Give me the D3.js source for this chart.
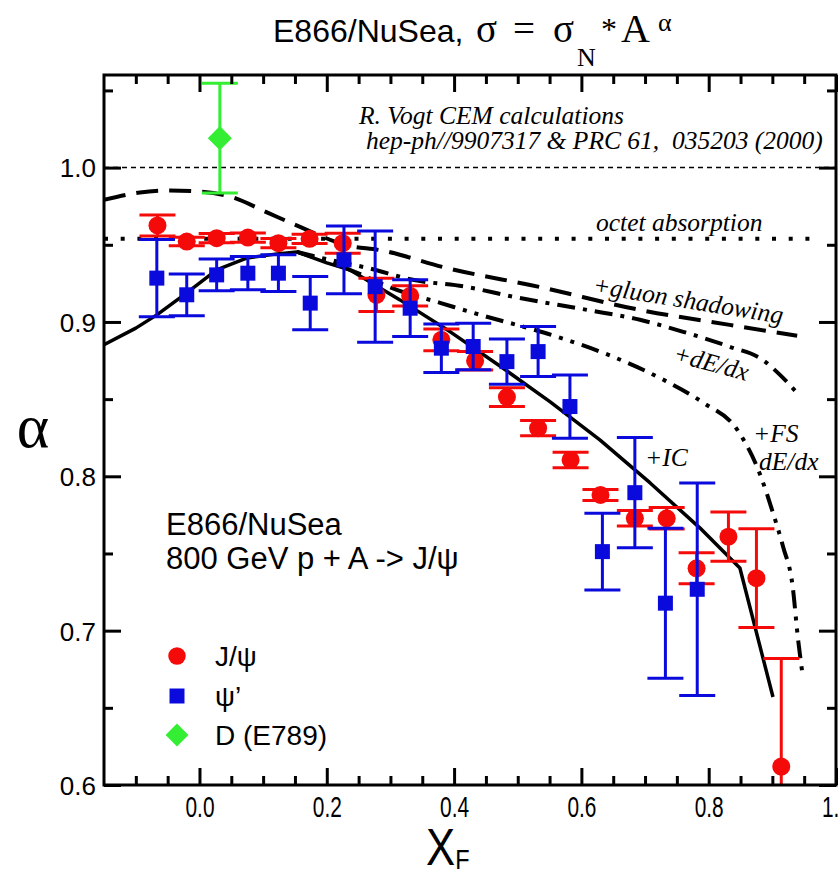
<!DOCTYPE html>
<html lang="en">
<head>
<meta charset="UTF-8">
<title>E866/NuSea alpha vs xF</title>
<style>
  body { margin: 0; background: #fff; }
  svg { display: block; }
</style>
</head>
<body>
<script src="https://cdn.jsdelivr.net/npm/d3@7"></script>
<script>
// J/psi points
const xfJ    = [-0.066, -0.020, 0.027, 0.076, 0.124, 0.173, 0.225, 0.278, 0.331, 0.380, 0.433, 0.483, 0.532, 0.583, 0.630, 0.684, 0.734, 0.781, 0.831, 0.875, 0.914];
const alphaJ = [0.9625, 0.9521, 0.9543, 0.9547, 0.9510, 0.9539, 0.9510, 0.9175, 0.9169, 0.8884, 0.8748, 0.8513, 0.8312, 0.8106, 0.7879, 0.7728, 0.7728, 0.7404, 0.7609, 0.7340, 0.6119];
const errJ   = [0.0068, 0.0027, 0.003, 0.003, 0.003, 0.003, 0.0065, 0.0108, 0.0065, 0.007, 0.006, 0.006, 0.005, 0.005, 0.0035, 0.005, 0.007, 0.010, 0.016, 0.032, 0.070];

// psi' points
const xfP    = [-0.067, -0.020, 0.027, 0.076, 0.124, 0.174, 0.227, 0.276, 0.331, 0.380, 0.430, 0.483, 0.532, 0.582, 0.633, 0.684, 0.732, 0.782];
const alphaP = [0.9284, 0.9176, 0.9305, 0.9316, 0.9316, 0.9122, 0.9402, 0.9229, 0.9089, 0.8830, 0.8841, 0.8743, 0.8808, 0.8452, 0.7512, 0.7894, 0.7178, 0.7268];
const errP   = [0.025, 0.0135, 0.0103, 0.0108, 0.0119, 0.0173, 0.022, 0.036, 0.0184, 0.0157, 0.015, 0.0146, 0.0162, 0.0205, 0.0248, 0.0357, 0.0486, 0.0688];

// D (E789)
const xfD = [0.032], alphaD = [1.0191], errD = [0.0356];

// CEM curves (R. Vogt)
const shadowX = [-0.15, -0.0935, -0.0463, -0.0024, 0.0526, 0.106, 0.158, 0.232, 0.284, 0.389, 0.535, 0.692, 0.833, 0.939];
const shadowY = [0.9791, 0.9839, 0.9852, 0.9846, 0.9807, 0.9710, 0.9616, 0.9496, 0.9465, 0.9349, 0.9226, 0.9078, 0.8981, 0.8910];
const dedxX = [0.153, 0.205, 0.263, 0.335, 0.420, 0.493, 0.609, 0.692, 0.760, 0.833, 0.885, 0.912, 0.939];
const dedxY = [0.9454, 0.9402, 0.9351, 0.9273, 0.9227, 0.9163, 0.9078, 0.9014, 0.8936, 0.8839, 0.8754, 0.8657, 0.8540];
const fsX = [0.153, 0.236, 0.310, 0.378, 0.441, 0.515, 0.562, 0.650, 0.729, 0.792, 0.845, 0.881, 0.901, 0.917, 0.932, 0.940, 0.948];
const fsY = [0.9454, 0.9338, 0.9208, 0.9124, 0.9046, 0.8962, 0.8904, 0.8774, 0.8625, 0.8475, 0.8301, 0.8009, 0.7763, 0.7542, 0.7283, 0.6959, 0.6700];
const icX = [-0.15, -0.100, -0.067, -0.020, 0.027, 0.075, 0.122, 0.153, 0.200, 0.236, 0.315, 0.394, 0.472, 0.551, 0.629, 0.708, 0.786, 0.849, 0.901];
const icY = [0.8852, 0.8960, 0.9046, 0.9189, 0.9338, 0.9415, 0.9441, 0.9454, 0.9383, 0.9338, 0.9143, 0.8936, 0.8715, 0.8482, 0.8236, 0.7957, 0.7666, 0.7406, 0.6570];

const octetAlpha = 0.9539;
const xTicks = [0, 0.2, 0.4, 0.6, 0.8, 1.0];
const yTicks = [0.6, 0.7, 0.8, 0.9, 1.0];

const width = 839, height = 875;
const margin = {top: 75, right: 3, bottom: 90, left: 104};
const sans = "'Liberation Sans', Arial, sans-serif";
const serif = "'Liberation Serif', 'Times New Roman', serif";

const x = d3.scaleLinear().domain([-0.15, 1.0]).range([margin.left, width - margin.right]);
const y = d3.scaleLinear().domain([0.6, 1.06]).range([height - margin.bottom, margin.top]);

const svg = d3.select("body").append("svg")
    .attr("width", width).attr("height", height)
    .attr("viewBox", [0, 0, width, height]);

svg.append("clipPath").attr("id", "plot")
  .append("rect")
    .attr("x", margin.left).attr("y", margin.top)
    .attr("width", width - margin.left - margin.right)
    .attr("height", height - margin.top - margin.bottom);

const plot = svg.append("g").attr("clip-path", "url(#plot)");

// reference lines
plot.append("line")
    .attr("x1", x(-0.15)).attr("x2", x(1.0)).attr("y1", y(1)).attr("y2", y(1))
    .attr("stroke", "#000").attr("stroke-width", 1.5).attr("stroke-dasharray", "5,4");
plot.append("line")
    .attr("x1", x(-0.15)).attr("x2", x(0.97)).attr("y1", y(octetAlpha)).attr("y2", y(octetAlpha))
    .attr("stroke", "#000").attr("stroke-width", 4).attr("stroke-dasharray", "4,12.7");

const curves = [
  {xs: shadowX, ys: shadowY, dash: "22,11", curve: d3.curveMonotoneX},
  {xs: dedxX, ys: dedxY, dash: "18,8,4,8", curve: d3.curveMonotoneX},
  {xs: fsX, ys: fsY, dash: "18,8,4,8,4,8", curve: d3.curveMonotoneX},
  {xs: icX, ys: icY, dash: null, curve: d3.curveLinear}
];
curves.forEach(c => {
  const line = d3.line().x(d => x(d[0])).y(d => y(d[1])).curve(c.curve);
  plot.append("path")
      .datum(d3.zip(c.xs, c.ys))
      .attr("d", line)
      .attr("fill", "none")
      .attr("stroke", "#000")
      .attr("stroke-width", c.dash ? 4 : 3.5)
      .attr("stroke-linejoin", "round")
      .attr("stroke-dasharray", c.dash);
});

// data with error bars
function series(xs, as, es, color, symbol, size, rotate) {
  const data = d3.zip(xs, as, es);
  const g = plot.append("g").attr("stroke", color).attr("stroke-width", 3);
  g.selectAll(".bar").data(data).join("path")
      .attr("d", d => {
        const cx = x(d[0]), y1 = y(d[1] + d[2]), y0 = y(d[1] - d[2]);
        return `M${cx},${y0}V${y1}M${cx - 18},${y1}H${cx + 18}M${cx - 18},${y0}H${cx + 18}`;
      });
  plot.append("g").attr("fill", color).selectAll("path").data(data).join("path")
      .attr("transform", d => `translate(${x(d[0])},${y(d[1])}) rotate(${rotate})`)
      .attr("d", d3.symbol(symbol, size));
}
const red = "#f50a0a", blue = "#0a0adc", green = "#33ee33";
series(xfJ, alphaJ, errJ, red, d3.symbolCircle, 255, 0);
series(xfP, alphaP, errP, blue, d3.symbolSquare, 225, 0);
series(xfD, alphaD, errD, green, d3.symbolSquare, 290, 45);

// axes with inward ticks on all four sides
const minorX = d3.range(-0.1, 1.0001, 0.05).map(v => +v.toFixed(2)).filter(v => !xTicks.includes(v));
const minorY = d3.range(0.65, 1.06, 0.1).map(v => +v.toFixed(2));
function frameAxis(axisFn, scale, tr, major, minor, labels) {
  const gMinor = svg.append("g").attr("transform", tr)
      .call(axisFn(scale).tickValues(minor).tickSize(-9).tickFormat(""));
  const gMajor = svg.append("g").attr("transform", tr)
      .call(axisFn(scale).tickValues(major).tickSize(-17).tickFormat(labels ? d3.format(".1f") : ""));
  [gMinor, gMajor].forEach(g => {
    g.select(".domain").remove();
    g.selectAll("line").attr("stroke", "#000").attr("stroke-width", 3);
  });
  return gMajor;
}
const bottomY = height - margin.bottom, rightX = width - margin.right;
const gx = frameAxis(d3.axisBottom, x, `translate(0,${bottomY})`, xTicks, minorX, true);
frameAxis(d3.axisTop, x, `translate(0,${margin.top})`, xTicks, minorX, false);
const gy = frameAxis(d3.axisLeft, y, `translate(${margin.left},0)`, yTicks, minorY, true);
frameAxis(d3.axisRight, y, `translate(${rightX},0)`, yTicks, minorY, false);

gx.selectAll("text")
    .attr("font-family", sans).attr("font-size", 29).attr("fill", "#000")
    .attr("y", 11).attr("transform", "scale(0.72,1)");
gy.selectAll("text")
    .attr("font-family", sans).attr("font-size", 26).attr("fill", "#000")
    .attr("x", -8).attr("dy", "0.36em");

svg.append("rect")
    .attr("x", margin.left).attr("y", margin.top)
    .attr("width", rightX - margin.left).attr("height", bottomY - margin.top)
    .attr("fill", "none").attr("stroke", "#000").attr("stroke-width", 3);

// axis titles
svg.append("text").attr("x", 33).attr("y", 447).attr("text-anchor", "middle")
    .attr("font-family", serif).attr("font-size", 62).text("α");
const xl = svg.append("text").attr("x", 426).attr("y", 865)
    .attr("font-family", sans).attr("font-size", 52)
    .attr("transform", "translate(426,0) scale(0.84,1) translate(-426,0)");
xl.append("tspan").text("X");
xl.append("tspan").attr("font-size", 28).attr("dy", 4).text("F");

// title
const title = [
  {text: "E866/NuSea,", x: 273, y: 42, size: 32, font: sans},
  {text: "σ", x: 476, y: 42, size: 39, font: serif},
  {text: "=", x: 513, y: 42, size: 39, font: serif},
  {text: "σ", x: 553, y: 42, size: 39, font: serif},
  {text: "N", x: 577, y: 66, size: 26, font: serif},
  {text: "*", x: 601, y: 40, size: 32, font: serif},
  {text: "A", x: 621, y: 42, size: 40, font: serif},
  {text: "α", x: 658, y: 31, size: 26, font: serif}
];
svg.append("g").selectAll("text").data(title).join("text")
    .attr("x", d => d.x).attr("y", d => d.y)
    .attr("font-family", d => d.font).attr("font-size", d => d.size)
    .text(d => d.text);

// annotations
const ann = [
  {text: "R. Vogt CEM calculations", x: 359, y: 124, rot: 0},
  {text: "hep-ph//9907317 & PRC 61,  035203 (2000)", x: 366, y: 149, rot: 0},
  {text: "octet absorption", x: 596, y: 231, rot: 0},
  {text: "+gluon shadowing", x: 592, y: 293, rot: 9.2},
  {text: "+dE/dx", x: 672, y: 361, rot: 15},
  {text: "+FS", x: 753, y: 442, rot: 0},
  {text: "dE/dx", x: 759, y: 470, rot: 0},
  {text: "+IC", x: 645, y: 466, rot: 0}
];
svg.append("g").selectAll("text").data(ann).join("text")
    .attr("transform", d => `translate(${d.x},${d.y}) rotate(${d.rot})`)
    .attr("font-family", serif).attr("font-style", "italic").attr("font-size", 25.5)
    .attr("xml:space", "preserve")
    .text(d => d.text);

const info = svg.append("text").attr("font-family", sans).attr("font-size", 31);
info.append("tspan").attr("x", 166).attr("y", 535).text("E866/NuSea");
info.append("tspan").attr("x", 166).attr("y", 569).text("800 GeV p + A -> J/ψ");

// legend
const legend = [
  {label: "J/ψ", color: red, symbol: d3.symbolCircle, size: 240, rot: 0, y: 656},
  {label: "ψ’", color: blue, symbol: d3.symbolSquare, size: 225, rot: 0, y: 696},
  {label: "D (E789)", color: green, symbol: d3.symbolSquare, size: 260, rot: 45, y: 735}
];
const lg = svg.append("g").selectAll("g").data(legend).join("g");
lg.append("path")
    .attr("transform", d => `translate(177,${d.y}) rotate(${d.rot})`)
    .attr("d", d => d3.symbol(d.symbol, d.size)())
    .attr("fill", d => d.color);
lg.append("text").attr("x", 215).attr("y", d => d.y + 10)
    .attr("font-family", sans).attr("font-size", 28).text(d => d.label);
</script>
</body>
</html>
